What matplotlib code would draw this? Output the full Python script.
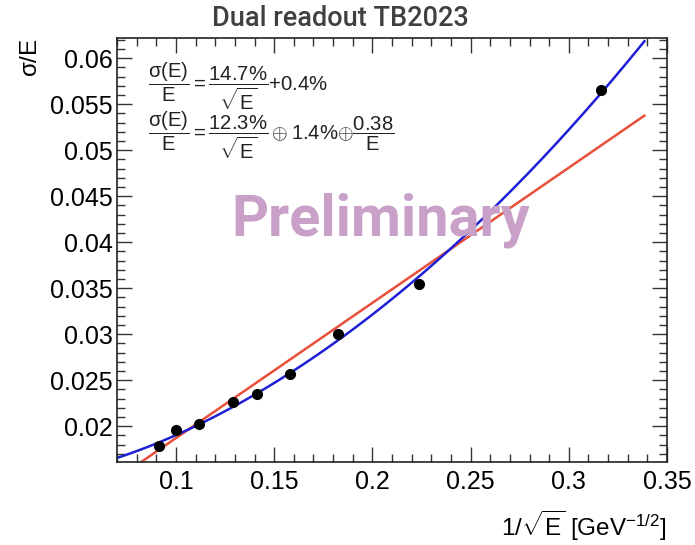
import matplotlib
matplotlib.use('Agg')
import matplotlib.pyplot as plt
import numpy as np
from matplotlib.ticker import MultipleLocator, FuncFormatter

plt.rcParams['font.family'] = ['Liberation Sans', 'DejaVu Sans']
plt.rcParams['mathtext.fontset'] = 'custom'
plt.rcParams['mathtext.rm'] = 'Liberation Sans'
plt.rcParams['mathtext.it'] = 'Liberation Sans'
plt.rcParams['mathtext.bf'] = 'Liberation Sans:bold'

# measured points: 1/sqrt(E) and sigma/E
inv_sqrt_e = [0.0913, 0.1, 0.1118, 0.1291, 0.1414, 0.1581, 0.1826, 0.2236, 0.3162]
sigma_e = [0.0178, 0.0196, 0.0202, 0.0226, 0.0235, 0.0257, 0.0300, 0.0354, 0.0566]
sigma_e_err = [0.0002, 0.0002, 0.0002, 0.0002, 0.0002, 0.0002, 0.0002, 0.0003, 0.0004]

# fit parameters from the legend
lin_stoch, lin_const = 0.147, 0.004
quad_stoch, quad_const, quad_noise = 0.123, 0.014, 0.38

fig = plt.figure(figsize=(6.95, 5.45), dpi=100)
ax = fig.add_axes([117/695, 1-462/545, 550/695, 424/545])

xs = np.linspace(0.07, 0.3385, 400)
red = lin_stoch*xs + lin_const
blue = np.sqrt((quad_stoch*xs)**2 + quad_const**2 + (quad_noise*xs**2)**2)
ax.plot(xs, red, color='#e8503a', lw=1.8)
ax.plot(xs, blue, color='#1f1fd6', lw=1.8)
ax.errorbar(inv_sqrt_e, sigma_e, yerr=sigma_e_err, fmt='o', color='black',
            ms=7, elinewidth=1.2, capsize=0)

ax.set_xlim(0.07, 0.35)
ax.set_ylim(0.0161, 0.0622)
ax.xaxis.set_major_locator(MultipleLocator(0.05))
ax.xaxis.set_minor_locator(MultipleLocator(0.01))
ax.yaxis.set_major_locator(MultipleLocator(0.005))
ax.yaxis.set_minor_locator(MultipleLocator(0.001))
ax.xaxis.set_major_formatter(FuncFormatter(lambda v, p: '%g' % round(v, 3)))
ax.yaxis.set_major_formatter(FuncFormatter(lambda v, p: '%g' % round(v, 4)))
ax.tick_params(which='both', direction='in', top=True, right=True, labelsize=18, color='#333333')
ax.tick_params(which='major', length=11, width=1)
ax.tick_params(which='minor', length=5.5, width=1)
ax.tick_params(axis='x', pad=6)
ax.tick_params(axis='y', pad=3)
for s in ax.spines.values():
    s.set_linewidth(1.2)
    s.set_color('#222222')

ax.set_xlabel(r'1/$\sqrt{\mathrm{E}}$ [GeV$^{-1/2}$]', fontsize=17.5, loc='right', labelpad=10)
ax.set_ylabel(r'$\sigma$/E', fontsize=17.5, loc='top', labelpad=6)

fig.text(340/695, 1-18/545, 'Dual readout TB2023', ha='center', va='center',
         fontsize=19.5, family='Roboto', fontweight='medium', color='#404040')

fig.text(148/695, 1-86/545, r'$\dfrac{\sigma(E)}{E} = \dfrac{14.7\%}{\sqrt{E}}$+0.4%',
         fontsize=14.6, va='center', ha='left', color='#222222')
fig.text(148/695, 1-135/545, r'$\dfrac{\sigma(E)}{E} = \dfrac{12.3\%}{\sqrt{E}}\oplus$1.4%$\oplus\dfrac{0.38}{E}$',
         fontsize=14.6, va='center', ha='left', color='#222222')

fig.text(381/695, 1-220/545, 'Preliminary', ha='center', va='center', fontsize=41.5,
         family='Roboto', fontweight='bold', color='#c8a0c8')

fig.savefig('out.png', dpi=100)
